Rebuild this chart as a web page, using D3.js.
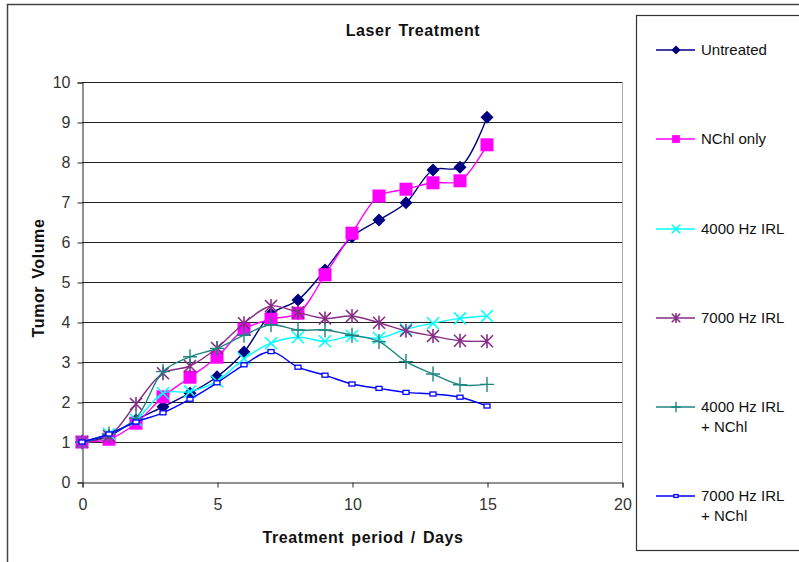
<!DOCTYPE html>
<html><head><meta charset="utf-8">
<script src="https://cdn.jsdelivr.net/npm/d3@7"></script>
<style>body{margin:0;background:#fff}svg{display:block;font-family:"Liberation Sans",Arial,sans-serif}</style>
</head><body><svg id="c" width="799" height="562"></svg>
<script>
const days = [0,1,2,3,4,5,6,7,8,9,10,11,12,13,14,15];
const untreated = [1.0,1.15,1.55,1.88,2.22,2.63,3.25,4.2,4.55,5.3,6.13,6.55,6.98,7.8,7.87,9.12];
const nchlOnly = [1.0,1.07,1.47,2.13,2.62,3.12,3.82,4.07,4.22,5.18,6.22,7.15,7.32,7.48,7.53,8.43];
const irl4000 = [1.0,1.2,1.55,2.22,2.26,2.52,3.08,3.47,3.62,3.52,3.65,3.6,3.82,3.97,4.09,4.15];
const irl7000 = [1.0,1.15,1.95,2.72,2.9,3.35,3.97,4.4,4.24,4.09,4.15,3.98,3.78,3.65,3.53,3.52];
const irl4000N = [1.0,1.2,1.59,2.76,3.13,3.34,3.67,3.93,3.8,3.8,3.67,3.51,3.01,2.7,2.43,2.44];
const irl7000N = [1.0,1.2,1.5,1.73,2.07,2.48,2.93,3.26,2.87,2.67,2.45,2.34,2.24,2.2,2.12,1.9];
const seriesNames = [["Untreated"],["NChl only"],["4000 Hz IRL"],["7000 Hz IRL"],["4000 Hz IRL","+ NChl"],["7000 Hz IRL","+ NChl"]];
const xTicks = [0,5,10,15,20];
const yTicks = [0,1,2,3,4,5,6,7,8,9,10];

const seriesData = [untreated,nchlOnly,irl4000,irl7000,irl4000N,irl7000N];
const colors = ["#000080","#ff00ff","#00ffff","#862e86","#1e8582","#0000ff"];
const markers = ["diamond","square","x","star","plus","smallsq"];

const svg = d3.select("#c");
svg.append("rect").attr("x",7.5).attr("y",4.5).attr("width",820).attr("height",600).attr("fill","none").attr("stroke","#444").attr("stroke-width",1.5);

const x = d3.scaleLinear().domain([0,20]).range([82,622]);
const y = d3.scaleLinear().domain([0,10]).range([482,82]);

svg.append("g").selectAll("line").data(yTicks.filter(d=>d>0)).join("line")
  .attr("x1",82).attr("x2",622).attr("y1",d=>Math.round(y(d))+0.5).attr("y2",d=>Math.round(y(d))+0.5)
  .attr("stroke","#222").attr("stroke-width",1);
svg.append("line").attr("x1",622.5).attr("x2",622.5).attr("y1",82).attr("y2",482).attr("stroke","#aaa");

const yAxis = svg.append("g").attr("transform","translate(82.5,0.5)")
  .call(d3.axisLeft(y).tickValues(yTicks).tickSize(5).tickPadding(7).tickFormat(d3.format("d")));
const xAxis = svg.append("g").attr("transform","translate(0.5,482.5)")
  .call(d3.axisBottom(x).tickValues(xTicks).tickSize(5).tickPadding(11).tickFormat(d3.format("d")));
[yAxis,xAxis].forEach(a=>{
  a.select(".domain").attr("stroke","#222");
  a.selectAll(".tick line").attr("stroke","#222");
  a.selectAll("text").attr("fill","#333").style("font-size","16px").style("font-family","'Liberation Sans',Arial,sans-serif");
});

function title(sel){ return sel.attr("text-anchor","middle").attr("font-weight","bold").attr("font-size",16).attr("letter-spacing","0.6px").attr("word-spacing","2px").attr("fill","#111"); }
title(svg.append("text").attr("x",413).attr("y",36)).text("Laser Treatment");
title(svg.append("text").attr("transform","translate(44,278) rotate(-90)")).text("Tumor Volume");
title(svg.append("text").attr("x",363).attr("y",543)).text("Treatment period / Days");

function drawMarker(g, type, color, s){
  if(type==="diamond") g.append("path").attr("d",`M0,${-6.5*s}L${6.5*s},0L0,${6.5*s}L${-6.5*s},0Z`).attr("fill",color);
  else if(type==="square") g.append("rect").attr("x",-6.5*s).attr("y",-6.5*s).attr("width",13*s).attr("height",13*s).attr("fill",color);
  else if(type==="x") g.append("path").attr("d",`M${-6*s},${-6*s}L${6*s},${6*s}M${-6*s},${6*s}L${6*s},${-6*s}`).attr("stroke",color).attr("stroke-width",1.6);
  else if(type==="star") g.append("path").attr("d",`M${-6*s},${-6*s}L${6*s},${6*s}M${-6*s},${6*s}L${6*s},${-6*s}M0,${-7*s}L0,${7*s}`).attr("stroke",color).attr("stroke-width",1.6);
  else if(type==="plus") g.append("path").attr("d",`M${-7*s},0L${7*s},0M0,${-7.5*s}L0,${7.5*s}`).attr("stroke",color).attr("stroke-width",1.4);
  else if(type==="smallsq") g.append("rect").attr("x",-3*s).attr("y",-2*s).attr("width",6*s).attr("height",4*s).attr("fill","#fff").attr("stroke",color).attr("stroke-width",1.3);
}

const line = d3.line().x((d,i)=>x(days[i])).y(d=>y(d)).curve(d3.curveCatmullRom.alpha(0.5));
seriesData.forEach((vals,k)=>{
  const g = svg.append("g");
  g.append("path").attr("d",line(vals)).attr("fill","none").attr("stroke",colors[k]).attr("stroke-width",1.4);
  vals.forEach((v,i)=>{
    const m = g.append("g").attr("transform",`translate(${x(days[i])},${y(v)})`);
    drawMarker(m, markers[k], colors[k], 1);
  });
});

svg.append("rect").attr("x",636.5).attr("y",15.5).attr("width",200).attr("height",535).attr("fill","#fff").attr("stroke","#333").attr("stroke-width",1.2);
const legY = [50,139,229,318,407,496];
seriesNames.forEach((nm,k)=>{
  const g = svg.append("g").attr("transform",`translate(0,${legY[k]})`);
  g.append("line").attr("x1",656).attr("x2",695).attr("y1",0).attr("y2",0).attr("stroke",colors[k]).attr("stroke-width",1.4);
  const m = g.append("g").attr("transform","translate(676,0)");
  drawMarker(m, markers[k], colors[k], k===1?0.6:0.7);
  nm.forEach((t,j)=>{
    g.append("text").attr("x",701).attr("y",5+j*20).attr("font-size",15).attr("fill","#111").text(t);
  });
});
</script></body></html>
